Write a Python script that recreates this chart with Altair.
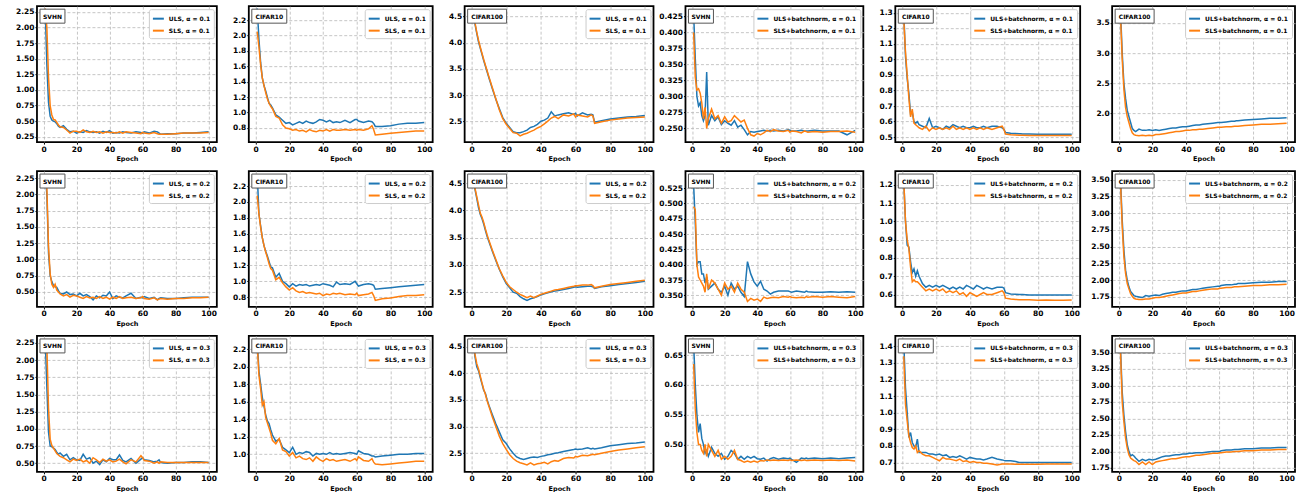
import altair as alt
import pandas as pd

EPOCHS = [1, 2, 3, 4, 5, 6, 7, 8, 9, 10,
          12, 14, 16, 18, 20, 22, 24, 26, 28, 30,
          32, 34, 36, 38, 40, 42, 44, 46, 48, 50,
          53, 56, 59, 60, 61, 64, 67, 69, 70, 71,
          75, 80, 85, 90, 95, 100]
X_TICKS = [0, 20, 40, 60, 80, 100]

# ---------------- row 1 (alpha = 0.1) ----------------
SVHN_01_ULS = [2.30, 1.40, 0.80, 0.58, 0.52, 0.50, 0.49, 0.46, 0.42, 0.40,
               0.43, 0.37, 0.33, 0.34, 0.31, 0.33, 0.32, 0.35, 0.33, 0.32,
               0.33, 0.31, 0.34, 0.32, 0.35, 0.31, 0.32, 0.31, 0.33, 0.32,
               0.31, 0.33, 0.32, 0.31, 0.33, 0.31, 0.34, 0.33, 0.31, 0.29,
               0.30, 0.30, 0.31, 0.31, 0.32, 0.33]
SVHN_01_SLS = [2.30, 2.00, 1.20, 0.75, 0.60, 0.53, 0.52, 0.48, 0.44, 0.41,
               0.40, 0.36, 0.31, 0.34, 0.34, 0.32, 0.36, 0.33, 0.32, 0.34,
               0.32, 0.33, 0.31, 0.33, 0.32, 0.32, 0.31, 0.33, 0.31, 0.33,
               0.32, 0.31, 0.30, 0.32, 0.31, 0.30, 0.32, 0.30, 0.29, 0.29,
               0.29, 0.30, 0.31, 0.31, 0.31, 0.32]
C10_01_ULS = [2.35, 1.95, 1.65, 1.45, 1.35, 1.28, 1.20, 1.12, 1.10, 1.06,
              0.97, 0.94, 0.90, 0.86, 0.87, 0.84, 0.86, 0.88, 0.86, 0.89,
              0.87, 0.86, 0.88, 0.91, 0.90, 0.88, 0.90, 0.87, 0.88, 0.87,
              0.90, 0.87, 0.91, 0.91, 0.89, 0.87, 0.89, 0.88, 0.86, 0.82,
              0.82, 0.83, 0.85, 0.86, 0.86, 0.87]
C10_01_SLS = [2.05, 1.85, 1.62, 1.45, 1.35, 1.26, 1.18, 1.12, 1.08, 1.05,
              0.95, 0.93, 0.84, 0.80, 0.79, 0.77, 0.78, 0.76, 0.77, 0.75,
              0.78, 0.76, 0.75, 0.77, 0.76, 0.78, 0.76, 0.78, 0.77, 0.77,
              0.78, 0.77, 0.78, 0.77, 0.78, 0.77, 0.79, 0.83, 0.78, 0.71,
              0.72, 0.73, 0.74, 0.75, 0.76, 0.76]
C100_01_ULS = [4.55, 4.35, 4.18, 4.02, 3.90, 3.78, 3.66, 3.55, 3.44, 3.33,
               3.12, 2.92, 2.74, 2.57, 2.46, 2.38, 2.30, 2.28, 2.28, 2.30,
               2.33, 2.38, 2.40, 2.44, 2.50, 2.52, 2.56, 2.68, 2.60, 2.62,
               2.64, 2.66, 2.63, 2.65, 2.60, 2.66, 2.62, 2.63, 2.62, 2.48,
               2.51, 2.54, 2.56, 2.58, 2.59, 2.61]
C100_01_SLS = [4.55, 4.38, 4.20, 4.05, 3.92, 3.80, 3.68, 3.57, 3.46, 3.35,
               3.14, 2.93, 2.72, 2.55, 2.44, 2.36, 2.28, 2.27, 2.22, 2.25,
               2.27, 2.30, 2.33, 2.37, 2.40, 2.45, 2.50, 2.56, 2.59, 2.55,
               2.62, 2.60, 2.64, 2.58, 2.62, 2.60, 2.58, 2.62, 2.60, 2.46,
               2.49, 2.52, 2.54, 2.56, 2.57, 2.58]
SVHNBN_01_ULS = [0.430, 0.360, 0.300, 0.285, 0.290, 0.270, 0.262, 0.270, 0.338, 0.255,
                 0.270, 0.262, 0.268, 0.256, 0.262, 0.258, 0.255, 0.262, 0.252, 0.255,
                 0.248, 0.240, 0.245, 0.244, 0.245, 0.246, 0.247, 0.246, 0.247, 0.246,
                 0.247, 0.246, 0.248, 0.247, 0.246, 0.246, 0.247, 0.246, 0.246, 0.246,
                 0.247, 0.246, 0.246, 0.246, 0.240, 0.247]
SVHNBN_01_SLS = [0.400, 0.330, 0.310, 0.312, 0.305, 0.290, 0.265, 0.283, 0.250, 0.265,
                 0.280, 0.265, 0.270, 0.258, 0.268, 0.260, 0.262, 0.270, 0.265, 0.260,
                 0.263, 0.250, 0.240, 0.238, 0.242, 0.240, 0.243, 0.247, 0.245, 0.248,
                 0.246, 0.245, 0.247, 0.244, 0.246, 0.245, 0.243, 0.246, 0.245, 0.244,
                 0.245, 0.244, 0.245, 0.245, 0.246, 0.244]
C10BN_01_ULS = [1.30, 1.02, 0.88, 0.78, 0.65, 0.66, 0.60, 0.59, 0.60, 0.58,
                0.57, 0.56, 0.62, 0.56, 0.57, 0.56, 0.55, 0.57, 0.56, 0.58,
                0.57, 0.56, 0.57, 0.56, 0.56, 0.57, 0.56, 0.56, 0.57, 0.56,
                0.57, 0.57, 0.56, 0.55, 0.53, 0.525, 0.523, 0.522, 0.521, 0.520,
                0.520, 0.518, 0.518, 0.518, 0.518, 0.518]
C10BN_01_SLS = [1.25, 1.05, 0.90, 0.75, 0.63, 0.68, 0.59, 0.58, 0.57, 0.56,
                0.55, 0.57, 0.54, 0.56, 0.55, 0.56, 0.55, 0.56, 0.55, 0.57,
                0.55, 0.56, 0.55, 0.56, 0.55, 0.56, 0.55, 0.56, 0.55, 0.56,
                0.55, 0.56, 0.57, 0.55, 0.52, 0.515, 0.513, 0.512, 0.512, 0.512,
                0.511, 0.511, 0.511, 0.511, 0.511, 0.511]
C100BN_01_ULS = [3.70, 3.00, 2.50, 2.25, 2.05, 1.95, 1.85, 1.75, 1.72, 1.70,
                 1.74, 1.72, 1.72, 1.73, 1.72, 1.73, 1.72, 1.73, 1.74, 1.75,
                 1.76, 1.76, 1.77, 1.78, 1.78, 1.79, 1.80, 1.81, 1.81, 1.82,
                 1.83, 1.84, 1.85, 1.85, 1.85, 1.86, 1.87, 1.87, 1.88, 1.88,
                 1.89, 1.90, 1.91, 1.92, 1.92, 1.93]
C100BN_01_SLS = [3.60, 2.90, 2.40, 2.10, 1.95, 1.85, 1.75, 1.68, 1.65, 1.64,
                 1.63, 1.64, 1.63, 1.64, 1.63, 1.65, 1.65, 1.66, 1.67, 1.68,
                 1.69, 1.70, 1.70, 1.71, 1.72, 1.72, 1.73, 1.73, 1.74, 1.74,
                 1.75, 1.76, 1.77, 1.77, 1.77, 1.78, 1.78, 1.79, 1.79, 1.79,
                 1.80, 1.81, 1.82, 1.82, 1.83, 1.84]

# ---------------- row 2 (alpha = 0.2) ----------------
SVHN_02_ULS = [2.30, 2.00, 1.10, 0.75, 0.66, 0.60, 0.58, 0.57, 0.52, 0.48,
               0.47, 0.50, 0.46, 0.47, 0.44, 0.48, 0.44, 0.46, 0.43, 0.38,
               0.44, 0.41, 0.45, 0.44, 0.50, 0.40, 0.44, 0.42, 0.41, 0.44,
               0.48, 0.40, 0.42, 0.41, 0.43, 0.40, 0.42, 0.38, 0.40, 0.41,
               0.40, 0.40, 0.41, 0.42, 0.42, 0.42]
SVHN_02_SLS = [2.30, 2.10, 1.20, 0.78, 0.62, 0.57, 0.62, 0.53, 0.50, 0.47,
               0.44, 0.46, 0.42, 0.45, 0.44, 0.42, 0.40, 0.43, 0.41, 0.42,
               0.40, 0.43, 0.40, 0.42, 0.39, 0.42, 0.40, 0.43, 0.40, 0.41,
               0.42, 0.40, 0.41, 0.43, 0.40, 0.39, 0.41, 0.38, 0.39, 0.40,
               0.39, 0.40, 0.40, 0.41, 0.41, 0.42]
C10_02_ULS = [2.35, 1.85, 1.70, 1.55, 1.45, 1.38, 1.32, 1.25, 1.18, 1.17,
              1.05, 1.10, 1.00, 0.97, 0.93, 0.97, 0.94, 0.96, 0.95, 0.96,
              0.94, 0.95, 0.96, 0.95, 0.97, 0.96, 0.95, 0.93, 0.99, 0.96,
              0.97, 0.96, 1.00, 0.97, 0.94, 0.96, 0.97, 0.96, 0.95, 0.90,
              0.91, 0.92, 0.93, 0.94, 0.95, 0.96]
C10_02_SLS = [2.08, 1.85, 1.68, 1.55, 1.45, 1.37, 1.30, 1.22, 1.16, 1.14,
              1.02, 1.05, 0.98, 0.93, 0.89, 0.92, 0.88, 0.86, 0.87, 0.85,
              0.86, 0.85, 0.84, 0.85, 0.82, 0.84, 0.83, 0.85, 0.84, 0.85,
              0.83, 0.84, 0.83, 0.85, 0.82, 0.83, 0.84, 0.86, 0.82, 0.76,
              0.78, 0.79, 0.81, 0.82, 0.82, 0.83]
C100_02_ULS = [4.55, 4.38, 4.22, 4.05, 3.93, 3.85, 3.75, 3.63, 3.52, 3.43,
               3.25, 3.08, 2.92, 2.78, 2.66, 2.58, 2.50, 2.48, 2.42, 2.38,
               2.35, 2.38, 2.40, 2.42, 2.45, 2.47, 2.49, 2.51, 2.52, 2.53,
               2.55, 2.57, 2.59, 2.60, 2.59, 2.60, 2.61, 2.61, 2.60, 2.57,
               2.60, 2.62, 2.64, 2.66, 2.68, 2.70]
C100_02_SLS = [4.52, 4.40, 4.25, 4.10, 3.95, 3.88, 3.78, 3.66, 3.55, 3.45,
               3.27, 3.10, 2.93, 2.80, 2.68, 2.60, 2.55, 2.50, 2.46, 2.43,
               2.40, 2.43, 2.40, 2.43, 2.46, 2.48, 2.50, 2.52, 2.54, 2.55,
               2.57, 2.59, 2.61, 2.62, 2.62, 2.63, 2.63, 2.64, 2.62, 2.58,
               2.61, 2.64, 2.66, 2.68, 2.70, 2.72]
SVHNBN_02_ULS = [0.530, 0.470, 0.400, 0.405, 0.405, 0.385, 0.385, 0.370, 0.380, 0.360,
                 0.365, 0.370, 0.360, 0.355, 0.365, 0.350, 0.370, 0.360, 0.365, 0.355,
                 0.348, 0.405, 0.385, 0.372, 0.365, 0.373, 0.360, 0.357, 0.352, 0.355,
                 0.357, 0.357, 0.357, 0.356, 0.355, 0.357, 0.356, 0.355, 0.357, 0.356,
                 0.355, 0.355, 0.356, 0.355, 0.356, 0.355]
SVHNBN_02_SLS = [0.495, 0.490, 0.400, 0.380, 0.375, 0.370, 0.365, 0.355, 0.385, 0.360,
                 0.375, 0.370, 0.360, 0.350, 0.370, 0.360, 0.365, 0.355, 0.370, 0.360,
                 0.355, 0.340, 0.345, 0.342, 0.344, 0.340, 0.347, 0.345, 0.346, 0.347,
                 0.346, 0.348, 0.347, 0.348, 0.347, 0.346, 0.347, 0.346, 0.348, 0.347,
                 0.348, 0.347, 0.348, 0.347, 0.346, 0.348]
C10BN_02_ULS = [1.22, 1.00, 0.87, 0.86, 0.78, 0.72, 0.74, 0.70, 0.73, 0.70,
                0.66, 0.64, 0.65, 0.64, 0.65, 0.64, 0.65, 0.64, 0.63, 0.64,
                0.63, 0.64, 0.63, 0.65, 0.64, 0.63, 0.65, 0.64, 0.63, 0.64,
                0.63, 0.64, 0.64, 0.635, 0.61, 0.603, 0.601, 0.600, 0.600, 0.600,
                0.598, 0.598, 0.598, 0.598, 0.598, 0.598]
C10BN_02_SLS = [1.22, 1.00, 0.90, 0.85, 0.75, 0.67, 0.68, 0.67, 0.67, 0.66,
                0.64, 0.62, 0.63, 0.62, 0.63, 0.62, 0.63, 0.61, 0.62, 0.61,
                0.62, 0.60, 0.61, 0.59, 0.61, 0.60, 0.59, 0.60, 0.61, 0.60,
                0.60, 0.61, 0.62, 0.61, 0.58, 0.575, 0.573, 0.572, 0.572, 0.571,
                0.571, 0.569, 0.570, 0.569, 0.568, 0.570]
C100BN_02_ULS = [3.50, 2.90, 2.45, 2.15, 2.00, 1.90, 1.83, 1.80, 1.77, 1.76,
                 1.75, 1.74, 1.77, 1.76, 1.77, 1.78, 1.77, 1.79, 1.80, 1.81,
                 1.82, 1.82, 1.83, 1.84, 1.84, 1.85, 1.86, 1.86, 1.87, 1.88,
                 1.89, 1.90, 1.91, 1.91, 1.92, 1.93, 1.93, 1.94, 1.94, 1.95,
                 1.95, 1.96, 1.97, 1.97, 1.98, 1.98]
C100BN_02_SLS = [3.45, 2.80, 2.35, 2.10, 1.95, 1.87, 1.80, 1.76, 1.73, 1.72,
                 1.71, 1.71, 1.72, 1.72, 1.73, 1.74, 1.74, 1.75, 1.76, 1.77,
                 1.78, 1.79, 1.80, 1.81, 1.81, 1.82, 1.83, 1.83, 1.84, 1.85,
                 1.86, 1.87, 1.87, 1.88, 1.88, 1.89, 1.89, 1.90, 1.90, 1.90,
                 1.91, 1.92, 1.92, 1.93, 1.93, 1.94]

# ---------------- row 3 (alpha = 0.3) ----------------
SVHN_03_ULS = [2.30, 1.60, 0.95, 0.75, 0.74, 0.72, 0.70, 0.66, 0.63, 0.65,
               0.60, 0.63, 0.55, 0.58, 0.55, 0.54, 0.63, 0.56, 0.58, 0.50,
               0.53, 0.48, 0.55, 0.52, 0.57, 0.55, 0.55, 0.62, 0.54, 0.52,
               0.57, 0.50, 0.56, 0.58, 0.55, 0.54, 0.52, 0.53, 0.55, 0.51,
               0.50, 0.51, 0.51, 0.52, 0.52, 0.51]
SVHN_03_SLS = [2.30, 2.20, 1.30, 0.85, 0.76, 0.72, 0.68, 0.64, 0.62, 0.60,
               0.58, 0.55, 0.52, 0.56, 0.54, 0.56, 0.52, 0.54, 0.50, 0.58,
               0.55, 0.51, 0.56, 0.53, 0.55, 0.52, 0.53, 0.56, 0.52, 0.49,
               0.55, 0.52, 0.61, 0.58, 0.54, 0.53, 0.50, 0.52, 0.50, 0.52,
               0.51, 0.51, 0.51, 0.51, 0.51, 0.51]
C10_03_ULS = [2.30, 1.95, 1.80, 1.65, 1.55, 1.45, 1.38, 1.35, 1.28, 1.22,
              1.15, 1.17, 1.08, 1.05, 1.02, 1.08, 1.00, 1.02, 1.01, 1.03,
              1.02, 0.98, 1.01, 1.00, 1.01, 1.00, 1.02, 1.00, 1.01, 1.00,
              1.01, 1.02, 1.01, 1.00, 1.04, 1.01, 1.00, 0.98, 0.98, 0.97,
              0.98, 0.99, 1.00, 1.00, 1.01, 1.01]
C10_03_SLS = [2.25, 1.90, 1.75, 1.56, 1.60, 1.42, 1.36, 1.30, 1.24, 1.16,
              1.12, 1.18, 1.05, 1.03, 0.98, 1.02, 0.96, 0.98, 0.95, 0.94,
              0.96, 0.92, 0.97, 0.94, 0.92, 0.95, 0.93, 0.94, 0.92, 0.93,
              0.94, 0.92, 0.95, 0.93, 0.97, 0.93, 0.92, 0.95, 0.91, 0.89,
              0.88, 0.89, 0.90, 0.91, 0.92, 0.92]
C100_03_ULS = [4.55, 4.30, 4.12, 4.05, 3.92, 3.80, 3.68, 3.62, 3.50, 3.40,
               3.22, 3.05, 2.90, 2.75, 2.68, 2.58, 2.50, 2.43, 2.40, 2.38,
               2.40, 2.42, 2.43, 2.42, 2.44, 2.45, 2.47, 2.48, 2.50, 2.51,
               2.53, 2.55, 2.57, 2.58, 2.57, 2.58, 2.60, 2.58, 2.59, 2.58,
               2.60, 2.64, 2.66, 2.68, 2.69, 2.71]
C100_03_SLS = [4.55, 4.35, 4.18, 4.08, 3.95, 3.82, 3.70, 3.60, 3.48, 3.38,
               3.18, 3.00, 2.82, 2.68, 2.57, 2.47, 2.40, 2.35, 2.32, 2.30,
               2.28, 2.32, 2.28, 2.30, 2.31, 2.33, 2.30, 2.34, 2.36, 2.35,
               2.40, 2.42, 2.41, 2.44, 2.43, 2.46, 2.45, 2.47, 2.48, 2.47,
               2.50, 2.53, 2.56, 2.58, 2.60, 2.62]
SVHNBN_03_ULS = [0.670, 0.600, 0.550, 0.520, 0.535, 0.510, 0.500, 0.485, 0.490, 0.480,
                 0.495, 0.485, 0.480, 0.485, 0.475, 0.480, 0.490, 0.485, 0.475, 0.480,
                 0.475, 0.480, 0.477, 0.480, 0.476, 0.475, 0.477, 0.472, 0.476, 0.478,
                 0.475, 0.477, 0.476, 0.477, 0.475, 0.470, 0.477, 0.476, 0.477, 0.476,
                 0.477, 0.476, 0.477, 0.476, 0.477, 0.478]
SVHNBN_03_SLS = [0.635, 0.560, 0.520, 0.500, 0.500, 0.490, 0.485, 0.500, 0.480, 0.500,
                 0.490, 0.480, 0.490, 0.475, 0.480, 0.475, 0.480, 0.490, 0.475, 0.473,
                 0.470, 0.472, 0.470, 0.472, 0.470, 0.473, 0.472, 0.474, 0.473, 0.474,
                 0.473, 0.474, 0.473, 0.474, 0.473, 0.474, 0.473, 0.474, 0.473, 0.473,
                 0.474, 0.473, 0.474, 0.473, 0.474, 0.472]
C10BN_03_ULS = [1.42, 1.15, 1.00, 0.85, 0.88, 0.82, 0.80, 0.79, 0.84, 0.76,
                0.76, 0.76, 0.75, 0.75, 0.745, 0.75, 0.74, 0.745, 0.73, 0.735,
                0.73, 0.74, 0.73, 0.72, 0.73, 0.725, 0.72, 0.72, 0.715, 0.72,
                0.73, 0.72, 0.715, 0.712, 0.71, 0.71, 0.705, 0.70, 0.70, 0.70,
                0.70, 0.70, 0.70, 0.70, 0.70, 0.70]
C10BN_03_SLS = [1.34, 1.05, 0.95, 0.86, 0.82, 0.79, 0.78, 0.80, 0.76, 0.77,
                0.75, 0.74, 0.74, 0.73, 0.72, 0.71, 0.73, 0.72, 0.72, 0.715,
                0.71, 0.72, 0.705, 0.71, 0.70, 0.705, 0.70, 0.70, 0.695, 0.695,
                0.69, 0.685, 0.69, 0.69, 0.69, 0.69, 0.688, 0.688, 0.688, 0.688,
                0.688, 0.688, 0.69, 0.69, 0.69, 0.69]
C100BN_03_ULS = [3.55, 2.90, 2.55, 2.30, 2.10, 2.00, 1.93, 1.95, 1.93, 1.90,
                 1.85, 1.88, 1.86, 1.88, 1.87, 1.88, 1.90, 1.92, 1.93, 1.93,
                 1.94, 1.95, 1.95, 1.96, 1.96, 1.97, 1.97, 1.98, 1.98, 1.98,
                 1.99, 2.00, 2.00, 2.00, 2.01, 2.02, 2.02, 2.03, 2.03, 2.03,
                 2.04, 2.04, 2.05, 2.05, 2.06, 2.06]
C100BN_03_SLS = [3.50, 2.75, 2.45, 2.20, 2.05, 1.95, 1.90, 1.88, 1.86, 1.85,
                 1.80, 1.84, 1.80, 1.84, 1.80, 1.84, 1.85, 1.86, 1.87, 1.88,
                 1.89, 1.89, 1.90, 1.91, 1.92, 1.92, 1.93, 1.94, 1.94, 1.95,
                 1.96, 1.97, 1.97, 1.98, 1.98, 1.99, 1.99, 2.00, 2.00, 2.00,
                 2.01, 2.01, 2.02, 2.02, 2.03, 2.03]

# y tick labels for each panel
TICKS_SVHN_A = [0.25, 0.5, 0.75, 1.0, 1.25, 1.5, 1.75, 2.0, 2.25]
TICKS_SVHN_B = [0.5, 0.75, 1.0, 1.25, 1.5, 1.75, 2.0, 2.25]
TICKS_C10_A = [0.8, 1.0, 1.2, 1.4, 1.6, 1.8, 2.0, 2.2]
TICKS_C10_B = [1.0, 1.2, 1.4, 1.6, 1.8, 2.0, 2.2]
TICKS_C100 = [2.5, 3.0, 3.5, 4.0, 4.5]
TICKS_SVHNBN_1 = [0.25, 0.275, 0.3, 0.325, 0.35, 0.375, 0.4, 0.425]
TICKS_SVHNBN_2 = [0.35, 0.375, 0.4, 0.425, 0.45, 0.475, 0.5, 0.525]
TICKS_SVHNBN_3 = [0.5, 0.55, 0.6, 0.65]
TICKS_C10BN_1 = [0.5, 0.6, 0.7, 0.8, 0.9, 1.0, 1.1, 1.2, 1.3]
TICKS_C10BN_2 = [0.6, 0.7, 0.8, 0.9, 1.0, 1.1, 1.2]
TICKS_C10BN_3 = [0.7, 0.8, 0.9, 1.0, 1.1, 1.2, 1.3, 1.4]
TICKS_C100BN_1 = [2.0, 2.5, 3.0, 3.5]
TICKS_C100BN_2 = [1.75, 2.0, 2.25, 2.5, 2.75, 3.0, 3.25, 3.5]

BLUE = "#1f77b4"
ORANGE = "#ff7f0e"
FONT = "DejaVu Sans"
COL_WIDTHS = [180, 184, 189, 178, 185, 183]
PANEL_H = 136
BOX_W = {"SVHN": 25, "CIFAR10": 35, "CIFAR100": 39}

PANELS = [
    ("SVHN", "0.1", False, SVHN_01_ULS, SVHN_01_SLS, [0.166, 2.34], TICKS_SVHN_A, ".2f"),
    ("CIFAR10", "0.1", False, C10_01_ULS, C10_01_SLS, [0.617, 2.38], TICKS_C10_A, ".1f"),
    ("CIFAR100", "0.1", False, C100_01_ULS, C100_01_SLS, [2.10, 4.70], TICKS_C100, ".1f"),
    ("SVHN", "0.1", True, SVHNBN_01_ULS, SVHNBN_01_SLS, [0.2286, 0.441], TICKS_SVHNBN_1, ".3f"),
    ("CIFAR10", "0.1", True, C10BN_01_ULS, C10BN_01_SLS, [0.468, 1.343], TICKS_C10BN_1, ".1f"),
    ("CIFAR100", "0.1", True, C100BN_01_ULS, C100BN_01_SLS, [1.526, 3.778], TICKS_C100BN_1, ".1f"),
    ("SVHN", "0.2", False, SVHN_02_ULS, SVHN_02_SLS, [0.27, 2.36], TICKS_SVHN_B, ".2f"),
    ("CIFAR10", "0.2", False, C10_02_ULS, C10_02_SLS, [0.677, 2.389], TICKS_C10_A, ".1f"),
    ("CIFAR100", "0.2", False, C100_02_ULS, C100_02_SLS, [2.23, 4.72], TICKS_C100, ".1f"),
    ("SVHN", "0.2", True, SVHNBN_02_ULS, SVHNBN_02_SLS, [0.331, 0.553], TICKS_SVHNBN_2, ".3f"),
    ("CIFAR10", "0.2", True, C10BN_02_ULS, C10BN_02_SLS, [0.532, 1.275], TICKS_C10BN_2, ".1f"),
    ("CIFAR100", "0.2", True, C100BN_02_ULS, C100BN_02_SLS, [1.60, 3.63], TICKS_C100BN_2, ".2f"),
    ("SVHN", "0.3", False, SVHN_03_ULS, SVHN_03_SLS, [0.375, 2.35], TICKS_SVHN_B, ".2f"),
    ("CIFAR10", "0.3", False, C10_03_ULS, C10_03_SLS, [0.80, 2.35], TICKS_C10_B, ".1f"),
    ("CIFAR100", "0.3", False, C100_03_ULS, C100_03_SLS, [2.15, 4.70], TICKS_C100, ".1f"),
    ("SVHN", "0.3", True, SVHNBN_03_ULS, SVHNBN_03_SLS, [0.454, 0.682], TICKS_SVHNBN_3, ".2f"),
    ("CIFAR10", "0.3", True, C10BN_03_ULS, C10BN_03_SLS, [0.643, 1.463], TICKS_C10BN_3, ".1f"),
    ("CIFAR100", "0.3", True, C100BN_03_ULS, C100BN_03_SLS, [1.69, 3.75], TICKS_C100BN_2, ".2f"),
]


def make_panel(idx, name, alpha, bn, uls, sls, ydom, yticks, yfmt):
    suffix = "+batchnorm" if bn else ""
    lab_u = f"ULS{suffix}, α = {alpha}"
    lab_s = f"SLS{suffix}, α = {alpha}"
    df_u = pd.DataFrame({"Epoch": EPOCHS, "loss": uls, "series": lab_u})
    df_s = pd.DataFrame({"Epoch": EPOCHS, "loss": sls, "series": lab_s})

    x_enc = alt.X("Epoch:Q",
                  scale=alt.Scale(domain=[-4, 105], nice=False, zero=False),
                  axis=alt.Axis(values=X_TICKS, title="Epoch", format="d"))
    y_enc = alt.Y("loss:Q",
                  scale=alt.Scale(domain=ydom, nice=False, zero=False),
                  axis=alt.Axis(values=yticks, format=yfmt, title=None))
    c_enc = alt.Color("series:N",
                      scale=alt.Scale(domain=[lab_u, lab_s], range=[BLUE, ORANGE]),
                      legend=alt.Legend(title=None, orient="top-right"))

    line_u = alt.Chart(df_u).mark_line(strokeWidth=1.5, clip=True).encode(x=x_enc, y=y_enc, color=c_enc)
    line_s = alt.Chart(df_s).mark_line(strokeWidth=1.5, clip=True).encode(x=x_enc, y=y_enc, color=c_enc)

    deco = pd.DataFrame({"t": [name]})
    bw = BOX_W[name]
    box = alt.Chart(deco).mark_rect(fill="white", stroke="#555555", strokeWidth=1).encode(
        x=alt.value(3), x2=alt.value(3 + bw), y=alt.value(3), y2=alt.value(17))
    txt = alt.Chart(deco).mark_text(font=FONT, fontSize=6, fontWeight="bold",
                                    align="center", baseline="middle", color="black").encode(
        x=alt.value(3 + bw / 2), y=alt.value(10.5), text="t:N")

    return alt.layer(line_u, line_s, box, txt).properties(
        width=COL_WIDTHS[idx % 6], height=PANEL_H)


panels = [make_panel(i, *p) for i, p in enumerate(PANELS)]

chart = alt.concat(*panels, columns=6, spacing={"row": 29, "column": 32}, bounds="flush").resolve_scale(
    color="independent", x="independent", y="independent"
).resolve_legend(color="independent").properties(
    padding={"left": 14, "top": 5, "right": 5, "bottom": 0}
).configure(font=FONT).configure_view(
    stroke="black", strokeWidth=1.8
).configure_axis(
    labelFont=FONT, labelFontWeight="bold", labelFontSize=7.5, labelColor="black",
    labelPadding=1, tickSize=2, tickColor="black", domain=False,
    grid=True, gridColor="#b8b8b8", gridDash=[3, 2], gridWidth=0.8,
    titleFont=FONT, titleFontWeight="bold", titleFontSize=6.5, titleColor="black",
    titlePadding=3, labelFlush=False, labelOverlap=False
).configure_legend(
    fillColor="white", strokeColor="#cccccc", cornerRadius=2, padding=3, offset=3,
    labelFont=FONT, labelFontSize=6, labelFontWeight="bold", labelColor="black",
    symbolStrokeWidth=2, symbolSize=120, symbolType="stroke", rowPadding=1, labelOffset=4
)

chart.save("out.html", embed_options={"renderer": "svg", "actions": False})
